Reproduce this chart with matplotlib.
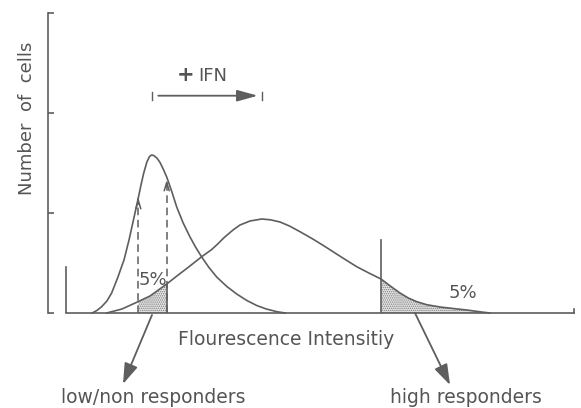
import matplotlib
matplotlib.use("Agg")
import matplotlib.pyplot as plt
import numpy as np

left_x = [8.4, 9.3, 10.2, 11.2, 12.1, 12.7, 13.3, 13.9, 14.45, 15.4, 16.16, 16.92, 17.68,
          18.2, 18.8, 19.3, 19.7, 20.1, 20.7, 21.3, 21.9, 22.57, 23.5, 24.47, 25.7, 27.0,
          28.1, 29.22, 30.6, 32.07, 34.0, 35.87, 37.8, 39.68, 41.5, 43.6, 45.1]
left_y = [0.0, 0.025, 0.063, 0.12, 0.20, 0.28, 0.36, 0.45, 0.53, 0.73, 0.91, 1.09, 1.28,
          1.40, 1.51, 1.565, 1.58, 1.575, 1.55, 1.505, 1.44, 1.36, 1.22, 1.06, 0.90, 0.76,
          0.655, 0.56, 0.455, 0.36, 0.265, 0.19, 0.125, 0.075, 0.04, 0.012, 0.0]
right_x = [11.16, 14.07, 17.11, 19.39, 22.57, 24.5, 26.5, 29.22, 31.0, 32.07, 33.5,
           35.17, 36.5, 38.4, 40.63, 42.3, 44.11, 45.9, 47.91, 50.5, 52.5, 54.18, 56.5,
           58.69, 61.0, 63.31, 65.2, 66.92, 68.5, 70.10, 72.0, 74.52, 77.0, 79.60, 82.1,
           84.0]
right_y = [0.0, 0.04, 0.113, 0.17, 0.29, 0.37, 0.45, 0.563, 0.63, 0.68, 0.755,
           0.83, 0.88, 0.92, 0.94, 0.932, 0.91, 0.87, 0.813, 0.735, 0.67, 0.613, 0.535,
           0.463, 0.40, 0.34, 0.265, 0.20, 0.15, 0.113, 0.083, 0.060, 0.045, 0.03, 0.012,
           0.0]

low_gate = [17.17, 22.57]      # dashed gate (low/non responders)
low_gate_top = [1.18, 1.36]
high_gate = 63.31              # high responder gate
high_gate_top = 0.73
start_marker = 3.42
start_marker_top = 0.46
yticks = [0, 1, 2, 3]
ifn_span = [19.77, 40.68]
pct_labels = ["5%", "5%"]
xlabel = "Flourescence Intensitiy"
ylabel = "Number  of  cells"
group_labels = ["low/non responders", "high responders"]

LC = "#5e5e5e"
TC = "#555555"
FS = 13

plt.rcParams["hatch.linewidth"] = 0.7
plt.rcParams["hatch.color"] = "#7a7a7a"

fig = plt.figure(figsize=(5.81, 4.08), dpi=100)
ax = fig.add_axes([48/581, 1-313/408, (574-48)/581, 300/408])
ax.set_xlim(0, 100)
ax.set_ylim(0, 3)

for s in ["top", "right"]:
    ax.spines[s].set_visible(False)
ax.spines["left"].set_color(LC)
ax.spines["left"].set_linewidth(1.2)
ax.spines["bottom"].set_color(LC)
ax.spines["bottom"].set_linewidth(1.2)
ax.spines["bottom"].set_bounds(start_marker, 100)
ax.set_xticks([])
ax.set_yticks(yticks)
ax.set_yticklabels([])
ax.tick_params(axis="y", direction="in", length=4, width=1.2, color=LC)

# end tick of baseline
ax.plot([100, 100], [0, 0.04], color=LC, lw=1.2, clip_on=False)
# start marker
ax.plot([start_marker, start_marker], [0, start_marker_top], color=LC, lw=1.2)

# shaded areas under right curve (bounded by the gates)
rx = np.array(right_x); ry = np.array(right_y)
def region(lo, hi):
    inner = (rx > lo) & (rx < hi)
    xs = np.concatenate([[lo], rx[inner], [hi]])
    ys = np.interp(xs, rx, ry)
    return xs, ys
for lo, hi in [(low_gate[0], low_gate[1]), (high_gate, rx[-1])]:
    xs, ys = region(lo, hi)
    ax.fill_between(xs, 0, ys, facecolor="#e8e8e8", edgecolor="#7a7a7a",
                    hatch="........", linewidth=0)
ax.plot([low_gate[1], low_gate[1]], [0, np.interp(low_gate[1], rx, ry)], color=LC, lw=1.2)

# curves
ax.plot(left_x, left_y, color=LC, lw=1.2, clip_on=False, solid_joinstyle="round")
ax.plot(right_x, right_y, color=LC, lw=1.2, clip_on=False, solid_joinstyle="round")

# dashed gate lines with arrowheads
for gx, gt in zip(low_gate, low_gate_top):
    ax.plot([gx, gx], [0, gt - 0.03], color=LC, lw=1.1, ls=(0, (5, 3)))
    ax.annotate("", xy=(gx, gt), xytext=(gx, gt - 0.12),
                arrowprops=dict(arrowstyle="->,head_length=0.5,head_width=0.15",
                                color=LC, lw=1.1, mutation_scale=12))

# high gate line
ax.plot([high_gate, high_gate], [0, high_gate_top], color=LC, lw=1.2)

# percentage labels
ax.text(19.96, 0.28, pct_labels[0], fontsize=FS, color=TC, ha="center", va="baseline")
ax.text(78.8, 0.147, pct_labels[1], fontsize=FS, color=TC, ha="center", va="baseline")

# +IFN arrow
ya = 2.173
ax.annotate("", xy=(ifn_span[1] - 0.8, ya), xytext=(ifn_span[0] + 1.2, ya),
            arrowprops=dict(arrowstyle="-|>,head_length=0.9,head_width=0.25",
                            color=LC, lw=1.3, mutation_scale=14, shrinkA=0, shrinkB=0))
for xv in ifn_span:
    ax.plot([xv, xv], [2.13, 2.21], color=LC, lw=1.0)
ax.text(26.2, 2.32, "+", fontsize=FS + 2, fontweight="bold", color=TC,
        ha="center", va="baseline")
ax.text(28.6, 2.32, "IFN", fontsize=FS, color=TC, ha="left", va="baseline")

# axis labels
ax.text(45.2, -0.32, xlabel, fontsize=FS + 0.5, color=TC, ha="center", va="baseline",
        clip_on=False)
ax.text(-4.0, 1.95, ylabel, fontsize=FS, color=TC, ha="center", va="center",
        rotation=90, clip_on=False)

# responder arrows and labels
ax.annotate("", xy=(14.26, -0.71), xytext=(19.77, -0.02), annotation_clip=False,
            arrowprops=dict(arrowstyle="-|>,head_length=0.9,head_width=0.3",
                            color=LC, lw=1.3, mutation_scale=14, shrinkA=0, shrinkB=0))
ax.annotate("", xy=(76.43, -0.72), xytext=(69.77, 0.0), annotation_clip=False,
            arrowprops=dict(arrowstyle="-|>,head_length=0.9,head_width=0.3",
                            color=LC, lw=1.3, mutation_scale=14, shrinkA=0, shrinkB=0))
ax.text(20.1, -0.90, group_labels[0], fontsize=FS + 0.5, color=TC, ha="center",
        va="baseline", clip_on=False)
ax.text(79.5, -0.90, group_labels[1], fontsize=FS + 0.5, color=TC, ha="center",
        va="baseline", clip_on=False)

fig.savefig("out.png", dpi=100)
